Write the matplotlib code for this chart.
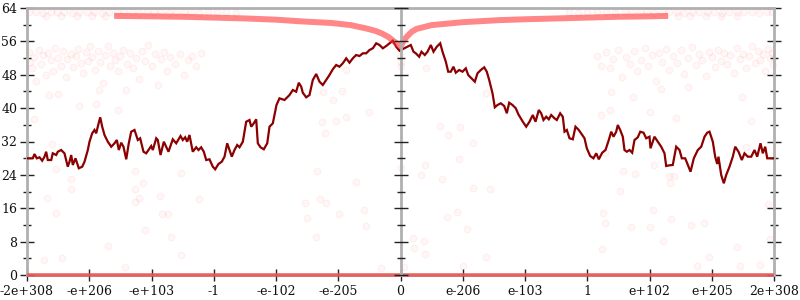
import matplotlib
matplotlib.use("Agg")
import matplotlib.pyplot as plt
from matplotlib.ticker import MultipleLocator

plt.rcParams['font.family'] = ['DejaVu Serif']
plt.rcParams['font.size'] = 9

# ---------------- data ----------------
tick_pos = [-6, -5, -4, -3, -2, -1, 0, 1, 2, 3, 4, 5, 6]
tick_labels = ['-2e+308', '-e+206', '-e+103', '-1', '-e-102', '-e-205', '0',
               'e-206', 'e-103', '1', 'e+102', 'e+205', '2e+308']

line_x = [-6.0, -5.907, -5.880, -5.843, -5.799, -5.756, -5.719, -5.692, -5.666, -5.611,
          -5.586, -5.531, -5.505, -5.451, -5.398, -5.345, -5.317, -5.290, -5.264, -5.221,
          -5.168, -5.113, -5.076, -5.023, -4.996, -4.953, -4.916, -4.888, -4.863, -4.824,
          -4.792, -4.755, -4.702, -4.647, -4.594, -4.557, -4.525, -4.487, -4.450, -4.406,
          -4.365, -4.326, -4.273, -4.220, -4.182, -4.129, -4.085,
          -4.005, -3.979, -3.924, -3.899, -3.855, -3.802, -3.764, -3.727, -3.658, -3.603,
          -3.534, -3.497, -3.459, -3.427, -3.390, -3.337, -3.282, -3.245, -3.202, -3.160,
          -3.121, -3.068, -3.015, -2.977, -2.924, -2.871, -2.827, -2.784, -2.747, -2.710,
          -2.667, -2.623, -2.586, -2.533, -2.479, -2.426, -2.398, -2.357, -2.318, -2.292,
          -2.249, -2.196, -2.141, -2.104, -2.051, -1.992,
          -1.944, -1.863, -1.783, -1.730, -1.676, -1.634, -1.595, -1.570, -1.515, -1.462,
          -1.409, -1.354, -1.301, -1.248, -1.194, -1.141, -1.088, -1.033, -0.980, -0.927,
          -0.872, -0.819, -0.766, -0.712, -0.659, -0.606, -0.551, -0.498, -0.445, -0.390,
          -0.337, -0.284, -0.230, -0.177, -0.124, -0.069, -0.016,
          0.059, 0.112, 0.165, 0.209, 0.246, 0.300, 0.337, 0.390, 0.434, 0.487,
          0.530, 0.583, 0.638, 0.675, 0.728, 0.766, 0.808, 0.851, 0.888, 0.943,
          0.996, 1.049, 1.088, 1.141, 1.194, 1.237, 1.290, 1.345, 1.386, 1.425,
          1.478, 1.515, 1.558, 1.611, 1.666, 1.708, 1.746, 1.799, 1.852, 1.891,
          1.933, 1.965, 2.019, 2.072, 2.125, 2.169, 2.222, 2.260, 2.297, 2.341,
          2.382, 2.421, 2.474, 2.511, 2.565, 2.607, 2.635, 2.672, 2.715, 2.768,
          2.811, 2.864, 2.919, 2.956, 2.993, 3.047, 3.100, 3.144, 3.186, 3.240,
          3.293, 3.346, 3.385, 3.422, 3.465, 3.491, 3.529, 3.571, 3.598, 3.635,
          3.679, 3.722, 3.759, 3.812, 3.851, 3.904, 3.947, 4.000,
          4.016, 4.080, 4.133, 4.188, 4.241, 4.268, 4.321, 4.374, 4.429, 4.482,
          4.519, 4.573, 4.606, 4.659, 4.712, 4.776, 4.831, 4.884, 4.927, 4.964,
          5.017, 5.055, 5.088, 5.108, 5.152, 5.194, 5.232, 5.285, 5.338, 5.377,
          5.430, 5.483, 5.526, 5.579, 5.634, 5.687, 5.730, 5.783, 5.820, 5.859,
          5.891, 5.955, 6.0]
line_y = [27.97, 27.97, 29.00, 27.97, 28.21, 27.40, 28.36, 29.55, 27.56, 27.56,
          29.17, 28.76, 29.55, 29.96, 29.17, 25.96, 27.16, 28.76, 26.37, 27.97,
          25.58, 25.96, 27.16, 29.96, 31.95, 33.96, 34.76, 33.96, 35.55, 37.80,
          35.55, 33.56, 31.95, 30.75, 31.57, 32.36, 29.96, 31.71, 30.75, 27.73,
          31.57, 34.35, 34.76, 32.36, 32.77, 29.55, 29.17,
          30.92, 29.96, 32.77, 32.36, 28.76, 31.95, 30.75, 29.55, 32.53, 31.57,
          33.32, 32.36, 33.01, 31.95, 33.56, 29.55, 30.61, 29.96, 30.61, 29.55,
          27.56, 27.73, 25.96, 25.34, 26.61, 27.16, 28.36, 31.57, 29.96, 28.36,
          29.96, 31.16, 30.61, 31.95, 36.74, 37.15, 35.55, 36.36, 37.32, 31.57,
          30.61, 30.13, 31.57, 35.55, 36.36, 40.75,
          42.35, 41.95, 43.14, 44.34, 43.94, 46.09, 45.13, 43.70, 42.59, 43.14,
          46.74, 48.18, 46.33, 45.54, 46.74, 47.94, 49.30, 50.34, 49.93, 50.74,
          51.94, 50.89, 51.94, 52.73, 52.49, 53.14, 53.14, 53.93, 54.34, 55.54,
          55.13, 54.34, 54.89, 55.54, 56.16, 54.72, 53.76,
          54.34, 54.72, 55.13, 53.52, 53.14, 52.32, 53.52, 52.73, 53.52, 55.13,
          53.52, 54.72, 55.54, 53.52, 51.13, 48.73, 48.73, 49.93, 48.49, 49.14,
          48.73, 49.54, 47.94, 47.15, 46.33, 48.35, 49.14, 49.78, 48.73, 46.74,
          43.55, 40.20, 40.75, 41.16, 40.51, 38.76, 41.30, 40.75, 39.96, 38.59,
          37.56, 36.74, 35.55, 36.74, 38.35, 36.74, 39.55, 38.76, 37.15, 37.94,
          37.32, 38.35, 37.56, 37.15, 38.76, 37.94, 34.35, 34.76, 32.77, 32.53,
          35.55, 34.76, 33.56, 32.77, 30.37, 28.52, 27.97, 29.17, 27.73, 29.31,
          29.96, 32.36, 34.35, 33.15, 34.35, 35.95, 34.76, 33.15, 29.96, 29.55,
          29.96, 29.31, 32.36, 33.01, 34.35, 34.11, 32.77, 33.15,
          30.37, 33.15, 31.95, 30.75, 29.17, 26.13, 26.29, 26.37, 30.75, 29.96,
          27.97, 27.97, 26.77, 24.76, 27.97, 29.96, 30.75, 33.15, 34.11, 34.35,
          31.95, 28.36, 26.61, 28.36, 23.97, 21.98, 23.97, 25.96, 28.36, 30.75,
          29.55, 27.56, 29.17, 28.36, 28.36, 29.96, 28.36, 31.57, 29.17, 30.75,
          27.97, 27.97, 27.97]

# thick translucent "V" curve near the top
v_x = [-4.6, -4.0, -3.5, -3.0, -2.5, -2.0, -1.6, -1.1, -0.8, -0.55, -0.4, -0.3,
       -0.2, -0.13, -0.07, -0.03, 0.0, 0.03, 0.06, 0.1, 0.18, 0.26, 0.5, 1.0,
       1.6, 2.0, 2.5, 3.0, 3.5, 4.0, 4.3]
v_y = [62.1, 62.0, 61.9, 61.7, 61.5, 61.2, 60.8, 60.4, 59.9, 59.1, 58.5, 57.9,
       57.1, 56.3, 55.6, 55.1, 54.8, 55.6, 56.4, 57.1, 58.3, 59.0, 59.9, 60.6,
       61.1, 61.3, 61.5, 61.7, 61.9, 62.0, 62.1]

# values sitting on zero
zero_x = [-6.0, 6.0]
zero_y = [0.0, 0.0]

# faint scattered samples
top_x = [-5.96, -5.86, -5.74, -5.62, -5.52, -5.40, -5.28, -5.16, -5.04, -4.92,
         -4.80, -4.68, -4.56, -4.44, -4.32, -4.20, -4.08, -3.96, -3.84, -3.72,
         -3.60, -3.48, -3.36, -3.24, -3.10, -2.95, -2.80, -2.65,
         -5.70, -5.45, -5.20, -4.95, -4.75,
         2.70, 2.85, 3.00, 3.15, 3.30, 3.45, 3.60, 3.72, 3.84, 3.96, 4.08, 4.20,
         4.32, 4.44, 4.56, 4.68, 4.80, 4.92, 5.04, 5.16, 5.28, 5.40, 5.52, 5.64,
         5.76, 5.88, 5.97,
         4.45, 4.65, 4.90, 5.15, 5.40]
top_y = [63.0, 63.1, 62.9, 63.0, 63.1, 63.0, 62.9, 63.1, 63.0, 63.0,
         62.9, 63.1, 63.0, 63.0, 63.1, 62.9, 63.0, 63.0, 63.1, 62.9,
         63.0, 63.1, 63.0, 62.9, 63.0, 63.1, 63.0, 62.9,
         62.1, 62.2, 62.1, 62.0, 62.1,
         63.0, 62.9, 63.1, 63.0, 63.0, 62.9, 63.1, 63.0, 63.0, 63.1, 62.9, 63.0,
         63.1, 63.0, 62.9, 63.0, 63.1, 63.0, 63.0, 62.9, 63.1, 63.0, 63.0, 63.1,
         62.9, 63.0, 63.0,
         62.1, 62.2, 62.1, 62.0, 62.1]

cluster_x = [-5.97, -5.95, -5.92, -5.88, -5.85, -5.80, -5.78, -5.74, -5.70, -5.66,
             -5.62, -5.58, -5.55, -5.50, -5.46, -5.42, -5.38, -5.35, -5.30, -5.26,
             -5.22, -5.18, -5.14, -5.10, -5.06, -5.02, -4.98, -4.95, -4.90, -4.86,
             -4.82, -4.78, -4.74, -4.70, -4.66, -4.62, -4.58, -4.54, -4.50, -4.45,
             -4.40, -4.35, -4.30, -4.25, -4.20, -4.15, -4.10, -4.05, -4.00, -3.95,
             -3.90, -3.85, -3.80, -3.75, -3.70, -3.62, -3.55, -3.48, -3.42, -3.35,
             -3.28, -3.20,
             3.15, 3.22, 3.30, 3.36, 3.42, 3.50, 3.56, 3.62, 3.68, 3.75,
             3.80, 3.86, 3.92, 3.98, 4.04, 4.10, 4.15, 4.20, 4.26, 4.32,
             4.38, 4.44, 4.50, 4.56, 4.62, 4.68, 4.74, 4.80, 4.85, 4.90,
             4.95, 5.00, 5.05, 5.10, 5.15, 5.20, 5.25, 5.30, 5.35, 5.40,
             5.45, 5.50, 5.55, 5.60, 5.65, 5.70, 5.74, 5.78, 5.82, 5.86,
             5.90, 5.93, 5.96, 5.98]
cluster_y = [53.5, 51.0, 49.5, 52.3, 46.5, 54.0, 50.5, 52.8, 48.0, 53.2,
             51.5, 49.0, 54.5, 52.0, 50.2, 53.6, 47.5, 51.8, 53.0, 49.8,
             52.5, 54.2, 50.8, 48.5, 53.4, 51.2, 55.0, 52.2, 49.2, 53.8,
             51.0, 46.0, 52.7, 54.8, 50.0, 53.1, 51.6, 48.8, 52.4, 54.0,
             50.6, 53.3, 49.5, 52.0, 47.0, 53.7, 51.3, 55.2, 50.2, 52.9,
             45.5, 51.7, 53.5, 49.0, 52.3, 50.5, 53.0, 48.0, 51.5, 52.6,
             50.0, 53.2,
             52.5, 50.0, 53.4, 49.5, 51.8, 54.0, 47.5, 52.2, 50.6, 53.6,
             48.8, 51.5, 54.5, 50.2, 52.8, 46.5, 53.2, 51.0, 54.2, 49.2,
             52.4, 50.8, 53.9, 48.2, 52.0, 54.6, 50.4, 53.0, 51.6, 47.8,
             53.5, 52.2, 49.8, 54.0, 51.2, 53.3, 50.5, 52.7, 48.5, 54.3,
             51.8, 53.0, 49.5, 52.4, 54.8, 50.9, 53.6, 51.5, 52.9, 49.0,
             54.1, 51.9, 53.2, 50.4]

sparse_x = [-5.53, -5.29, -5.30, -5.68, -5.54, -5.72, -5.43, -4.70, -4.43, -4.26,
            -4.27, -4.20, -4.27, -4.13, -4.10, -3.86, -3.83, -3.74, -3.68, -3.52,
            -3.53, -3.23, -1.34, -0.72, -1.54, -1.29, -1.19, -1.50, -0.99, -0.59,
            -0.55, -1.35, -0.31, 0.01, 0.39, 0.33, 0.67, 0.94, 1.16, 1.44,
            0.90, 0.74, 1.07, 0.20, 0.37, 0.22, 0.40, 0.06, 1.37, 1.00,
            3.28, 4.08, 3.58, 3.76, 3.53, 3.25, 3.28, 4.05, 3.71, 4.01,
            4.35, 4.32, 4.40, 4.33, 4.67, 4.88, 4.21, 4.96, 4.76, 5.45,
            5.40, 5.78, 5.90, 5.93, 3.24,
            -5.88, -5.64, -5.51, -5.17, -4.89, -4.54, -4.41, -5.60, -4.84,
            3.36, 3.73, 4.00, 4.43, 4.19, 4.62, 5.49, 5.63, 5.55, 3.38, 3.22,
            -0.88, -0.94, -1.09, -1.25, -0.50, -0.88, -1.03, -1.26, -1.22,
            0.41, 1.37, 0.63, 0.76, 0.96, 1.17, 0.01, -0.01, 0.0]
sparse_y = [25.3, 23.0, 20.6, 18.5, 14.9, 3.6, 4.1, 7.0, 2.0, 25.0,
            20.6, 18.4, 17.6, 22.0, 10.8, 18.9, 14.6, 14.6, 9.2, 24.5,
            4.8, 18.1, 25.0, 22.4, 17.3, 18.1, 17.3, 13.6, 14.6, 15.7,
            11.7, 9.2, 1.6, 25.6, 26.4, 24.0, 22.9, 27.7, 20.8, 20.5,
            15.2, 14.0, 11.0, 8.8, 8.2, 6.4, 5.0, 2.0, 4.4, 2.2,
            29.2, 26.4, 25.0, 24.2, 20.2, 14.8, 12.5, 15.6, 11.6, 11.4,
            13.4, 23.7, 23.7, 22.0, 12.0, 12.5, 8.2, 4.4, 2.2, 2.2,
            6.8, 2.4, 17.0, 8.6, 6.2,
            37.3, 43.1, 43.4, 40.5, 41.0, 39.5, 44.3, 31.4, 44.3,
            39.5, 42.6, 39.1, 37.6, 44.5, 45.0, 42.7, 37.0, 30.8, 43.9, 38.4,
            49.1, 44.2, 41.9, 43.9, 39.1, 37.8, 37.0, 36.7, 34.0,
            49.5, 43.7, 35.7, 33.6, 35.5, 31.7, 51.1, 52.5, 50.0]

# ---------------- figure ----------------
fig = plt.figure(figsize=(8, 3), dpi=100)
pos = [27 / 800, 25 / 300, 747 / 800, 267 / 300]
ax = fig.add_axes(pos)
ax.set_xlim(-6, 6)
ax.set_ylim(0, 64)

spine_col = '#b0b0b0'
tick_col = '#222222'

pt_face = (1.0, 0.0, 0.0, 0.035)
pt_edge = (1.0, 0.0, 0.0, 0.05)
for xs, ys in ((top_x, top_y), (cluster_x, cluster_y), (sparse_x, sparse_y)):
    ax.scatter(xs, ys, s=24, facecolor=pt_face, edgecolor=pt_edge,
               linewidths=0.8, zorder=1, clip_on=False)

ax.plot(zero_x, zero_y, color='#e85a5a', lw=2.6, alpha=0.9, zorder=3,
        solid_capstyle='butt', clip_on=False)
ax.plot(line_x, line_y, color='#8b0000', lw=1.6, zorder=4,
        solid_joinstyle='miter')
ax.plot(v_x, v_y, color='#ff3030', lw=4.3, alpha=0.58, zorder=5,
        solid_capstyle='butt')

for side in ('left', 'right', 'top', 'bottom'):
    ax.spines[side].set_color(spine_col)
    ax.spines[side].set_linewidth(2.0)
ax.spines['bottom'].set_zorder(0)

ax.set_xticks(tick_pos)
ax.set_xticklabels(tick_labels)
ax.yaxis.set_major_locator(MultipleLocator(8))
ax.yaxis.set_minor_locator(MultipleLocator(4))
ax.tick_params(axis='x', direction='inout', length=9, width=1, color=tick_col,
               pad=3, labelsize=9, labelcolor='#111111')
ax.tick_params(axis='y', which='major', direction='inout', length=10, width=1,
               color=tick_col, left=True, right=True, pad=2, labelsize=9,
               labelcolor='#111111')
ax.tick_params(axis='y', which='minor', direction='inout', length=6, width=1,
               color=tick_col, left=True, right=True)

# centre axis at x = 0
axc = fig.add_axes(pos, sharey=ax)
axc.set_xlim(-6, 6)
axc.patch.set_alpha(0)
for side in ('right', 'top', 'bottom'):
    axc.spines[side].set_visible(False)
axc.spines['left'].set_position(('data', 0))
axc.spines['left'].set_color(spine_col)
axc.spines['left'].set_linewidth(2.0)
axc.spines['left'].set_zorder(0)
axc.set_xticks([])
axc.tick_params(axis='y', which='major', direction='inout', length=10, width=1,
                color=tick_col, labelleft=False)
axc.tick_params(axis='y', which='minor', direction='inout', length=6, width=1,
                color=tick_col, labelleft=False)

fig.savefig('out.png', dpi=100, facecolor='white')
